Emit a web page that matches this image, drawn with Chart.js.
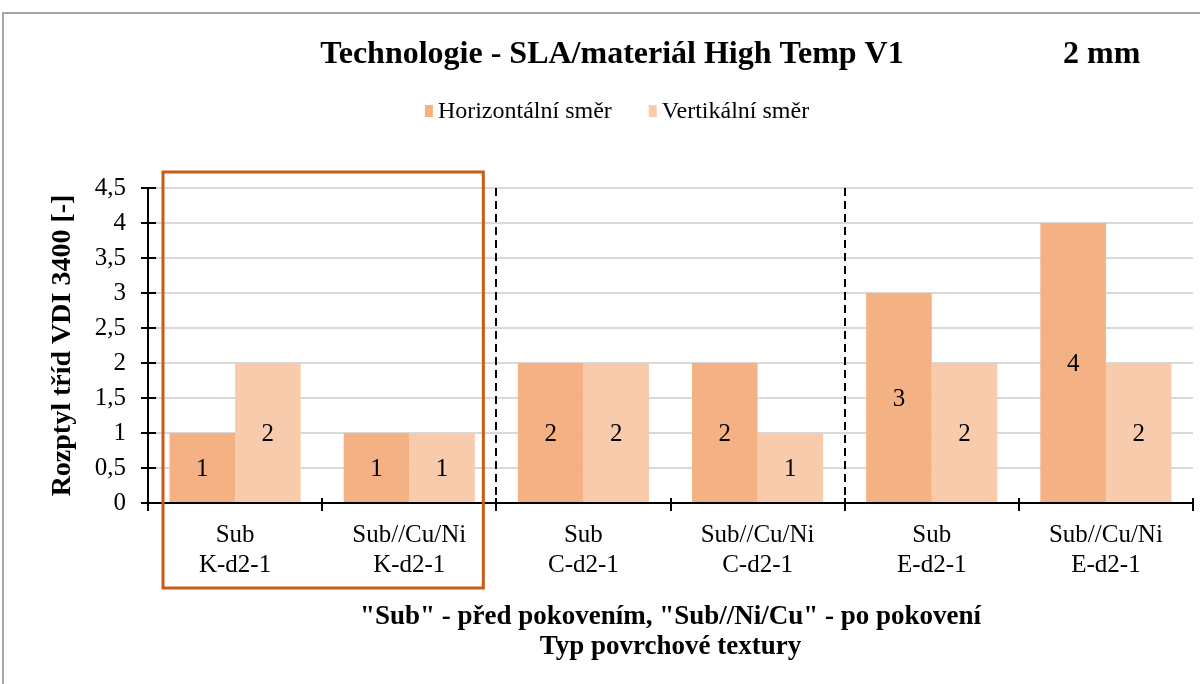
<!DOCTYPE html>
<html>
<head>
<meta charset="utf-8">
<script src="https://cdn.jsdelivr.net/npm/chart.js@4"></script>
<style>
  html, body { margin: 0; padding: 0; background: #fff; }
  #graf { display: block; }
</style>
</head>
<body>
<canvas id="graf" width="1200" height="684"></canvas>
<script>
// DATA
const kategorie = [
  ["Sub", "K-d2-1"],
  ["Sub//Cu/Ni", "K-d2-1"],
  ["Sub", "C-d2-1"],
  ["Sub//Cu/Ni", "C-d2-1"],
  ["Sub", "E-d2-1"],
  ["Sub//Cu/Ni", "E-d2-1"],
];
const horizontalni = [1, 1, 2, 2, 3, 4];
const vertikalni = [2, 1, 2, 1, 2, 2];
const nazvyRad = ["Horizontální směr", "Vertikální směr"];
const barvyRad = ["#F4B183", "#F8CBAD"];
const osaY = { min: 0, max: 4.5, krok: 0.5 };
const nadpis = "Technologie - SLA/materiál High Temp V1";
const tloustka = "2 mm";
const popisY = "Rozptyl tříd VDI 3400 [-]";
const popisX = ['"Sub" - před pokovením, "Sub//Ni/Cu" - po pokovení', "Typ povrchové textury"];
// DATA END

const PISMO = '"Liberation Serif", "Times New Roman", serif';
Chart.defaults.font.family = PISMO;
Chart.defaults.color = "#000";

// hranice kategorie i (0..n)
function hranice(chart, i) {
  const x = chart.scales.x;
  return x.left + (i * x.width) / chart.data.labels.length;
}

// ramecek, nadpis a legenda
const pozadi = {
  id: "pozadi",
  beforeDraw(chart) {
    const c = chart.ctx;
    c.save();
    c.strokeStyle = "#A6A6A6";
    c.lineWidth = 2;
    c.beginPath();
    c.moveTo(3, chart.height);
    c.lineTo(3, 13);
    c.lineTo(chart.width, 13);
    c.stroke();

    c.fillStyle = "#000";
    c.textBaseline = "alphabetic";
    c.font = "bold 32px " + PISMO;
    c.textAlign = "center";
    c.fillText(nadpis, 612, 63);
    c.textAlign = "left";
    c.fillText(tloustka, 1063, 63);

    // legenda
    c.font = "24px " + PISMO;
    const sirky = chart.data.datasets.map((d) => c.measureText(d.label).width);
    const celkem = sirky.reduce((a, b) => a + b, 0) + chart.data.datasets.length * 13 + 37;
    let x = 617 - celkem / 2;
    chart.data.datasets.forEach((d, i) => {
      c.fillStyle = d.backgroundColor;
      c.fillRect(x, 105, 8, 12);
      c.fillStyle = "#000";
      c.fillText(d.label, x + 13, 118);
      x += 13 + sirky[i] + 37;
    });
    c.restore();
  },
};

// hodnoty, oddelovace a ramecek skupiny
const popisky = {
  id: "popisky",
  afterDatasetsDraw(chart) {
    const c = chart.ctx;
    const area = chart.chartArea;
    c.save();
    c.font = "25px " + PISMO;
    c.fillStyle = "#000";
    c.textAlign = "center";
    c.textBaseline = "middle";
    chart.data.datasets.forEach((d, i) => {
      chart.getDatasetMeta(i).data.forEach((bar, j) => {
        c.fillText(String(d.data[j]), bar.x, (bar.y + bar.base) / 2 + 2);
      });
    });

    c.strokeStyle = "#000";
    c.lineWidth = 2;
    c.setLineDash([8, 5]);
    [2, 4].forEach((i) => {
      const px = Math.round(hranice(chart, i));
      c.beginPath();
      c.moveTo(px, area.top);
      c.lineTo(px, area.bottom);
      c.stroke();
    });
    c.setLineDash([]);

    c.strokeStyle = "#C65B1A";
    c.lineWidth = 3;
    const l = hranice(chart, 0) + 15;
    const r = hranice(chart, 2) - 13;
    c.strokeRect(l, area.top - 16, r - l, 416);
    c.restore();
  },
  afterDraw(chart) {
    const c = chart.ctx;
    const x = chart.scales.x;
    const y = chart.scales.y;
    c.save();
    c.strokeStyle = "#000";
    c.lineWidth = 2;
    c.beginPath();
    y.ticks.forEach((t) => {
      const py = Math.round(y.getPixelForValue(t.value));
      c.moveTo(y.right - 7, py);
      c.lineTo(y.right + 8, py);
    });
    for (let i = 0; i <= chart.data.labels.length; i++) {
      const px = Math.round(hranice(chart, i));
      c.moveTo(px, x.top - 5);
      c.lineTo(px, x.top + 8);
    }
    c.stroke();
    c.restore();
  },
};

function graf() {
  const data = {
    labels: kategorie,
    datasets: [
      { label: nazvyRad[0], data: horizontalni, backgroundColor: barvyRad[0] },
      { label: nazvyRad[1], data: vertikalni, backgroundColor: barvyRad[1] },
    ],
  };
  const config = {
    type: "bar",
    data: data,
    options: {
      responsive: false,
      animation: false,
      layout: { padding: { top: 188, right: 7, bottom: 0, left: 0 } },
      datasets: {
        bar: { categoryPercentage: 0.753, barPercentage: 1, borderWidth: 0 },
      },
      plugins: {
        legend: { display: false },
        title: { display: false },
        tooltip: { enabled: false },
      },
      scales: {
        x: {
          grid: { display: false, drawTicks: false },
          border: { display: true, color: "#000", width: 2 },
          ticks: {
            font: { size: 25, lineHeight: 1.2 },
            padding: 17,
            maxRotation: 0,
            autoSkip: false,
          },
          title: {
            display: true,
            text: popisX,
            font: { size: 27, weight: "bold", lineHeight: 1.11 },
            padding: { top: 0, bottom: 22 },
          },
          afterFit(s) {
            s.height = 181;
          },
        },
        y: {
          min: osaY.min,
          max: osaY.max,
          grid: { color: "#D9D9D9", lineWidth: 2, drawTicks: false },
          border: { display: true, color: "#000", width: 2 },
          ticks: {
            stepSize: osaY.krok,
            font: { size: 25 },
            padding: 22,
            callback: (v) => String(v).replace(".", ","),
          },
          title: {
            display: true,
            text: popisY,
            font: { size: 28, weight: "bold", lineHeight: 1.2 },
            padding: { top: 46, bottom: 0 },
          },
          afterFit(s) {
            s.width = 148;
          },
        },
      },
    },
    plugins: [pozadi, popisky],
  };
  new Chart(document.getElementById("graf"), config);
}

graf();
</script>
</body>
</html>
